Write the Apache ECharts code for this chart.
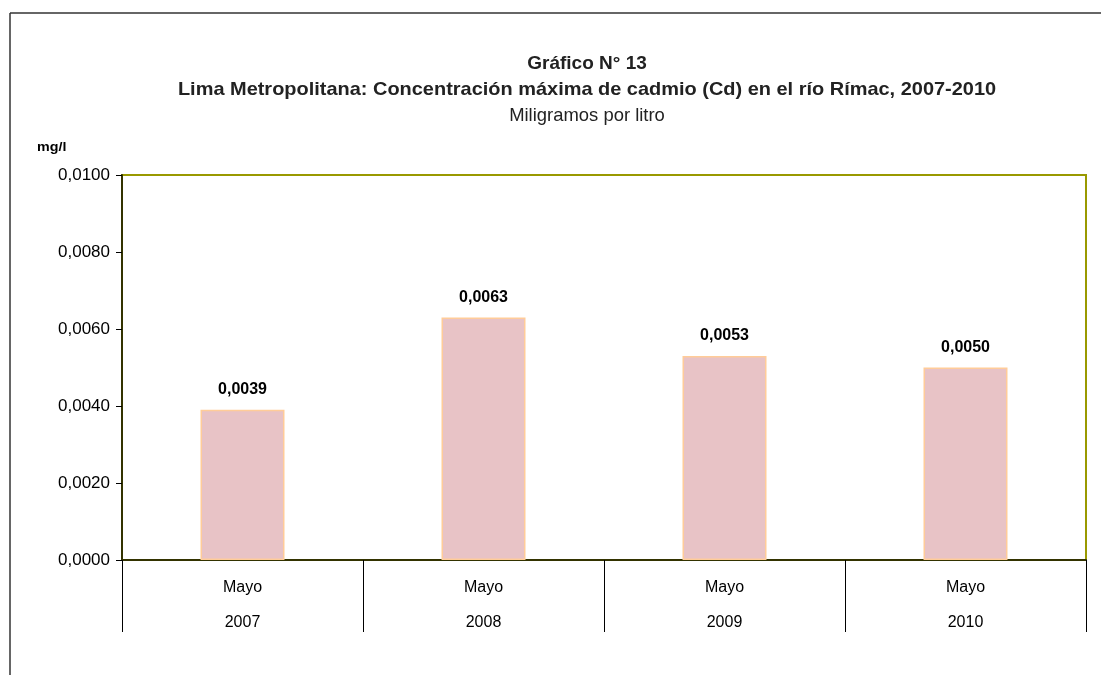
<!DOCTYPE html>
<html>
<head>
<meta charset="utf-8">
<script src="https://cdn.jsdelivr.net/npm/echarts@6/dist/echarts.min.js"></script>
<style>
  html, body { margin: 0; padding: 0; background: #fff; }
  #main { width: 1101px; height: 675px; }
</style>
</head>
<body>
<div id="main"></div>
<script>
// datos del gráfico
var meses = ['Mayo', 'Mayo', 'Mayo', 'Mayo'];
var anios = ['2007', '2008', '2009', '2010'];
var cadmio = [0.0039, 0.0063, 0.0053, 0.0050];
var yTicks = [0, 0.002, 0.004, 0.006, 0.008, 0.01];

var categorias = meses.map(function (m, i) { return m + '\n' + anios[i]; });
var coma = function (v) { return v.toFixed(4).replace('.', ','); };
var sans = 'Liberation Sans';

// textos del título
function texto(t, x, y, font, sx) {
    return {
        type: 'text', x: x, y: y, scaleX: sx, scaleY: 1,
        style: { text: t, align: 'center', verticalAlign: 'middle', font: font, fill: '#222' }
    };
}

var chart = echarts.init(document.getElementById('main'));
var option = {
    animation: false,
    grid: {
        left: 122, right: 15, top: 175, bottom: 115,
        show: true, borderColor: '#999900', borderWidth: 2
    },
    graphic: [
        { type: 'line', shape: { x1: 10, y1: 13, x2: 1101, y2: 13 }, style: { stroke: '#333', lineWidth: 1.5 } },
        { type: 'line', shape: { x1: 10, y1: 13, x2: 10, y2: 675 }, style: { stroke: '#333', lineWidth: 1.5 } },
        texto('Gráfico N° 13', 587, 64, 'bold 19px Liberation Sans', 1.0),
        texto('Lima Metropolitana: Concentración máxima de cadmio (Cd) en el río Rímac, 2007-2010', 587, 90, 'bold 19px Liberation Sans', 1.05),
        texto('Miligramos por litro', 587, 116, '19px Liberation Sans', 0.97),
        {
            type: 'text', x: 37, y: 147, scaleX: 1.1, scaleY: 1,
            style: { text: 'mg/l', align: 'left', verticalAlign: 'middle', font: 'bold 13px Liberation Sans', fill: '#000' }
        }
    ],
    xAxis: {
        type: 'category',
        data: categorias,
        axisLine: { show: true, lineStyle: { color: '#333300', width: 2 } },
        axisTick: { show: true, length: 72, alignWithLabel: false, lineStyle: { color: '#000', width: 1 } },
        axisLabel: { color: '#000', fontSize: 16, fontFamily: sans, lineHeight: 35, margin: 10, interval: 0 }
    },
    yAxis: {
        type: 'value',
        min: yTicks[0],
        max: yTicks[yTicks.length - 1],
        interval: yTicks[1] - yTicks[0],
        splitLine: { show: false },
        axisLine: { show: true, lineStyle: { color: '#333300', width: 2 } },
        axisTick: { show: true, length: 6, lineStyle: { color: '#000' } },
        axisLabel: { color: '#000', fontSize: 17, fontFamily: sans, margin: 12, formatter: coma }
    },
    series: [{
        type: 'bar',
        data: cadmio,
        barWidth: 84,
        itemStyle: { color: '#e8c3c6', borderColor: '#ffcc99', borderWidth: 1.5 },
        label: {
            show: true, position: 'top', distance: 12,
            color: '#000', fontWeight: 'bold', fontSize: 16, fontFamily: sans,
            formatter: function (p) { return coma(p.value); }
        }
    }]
};
chart.setOption(option);
</script>
</body>
</html>
